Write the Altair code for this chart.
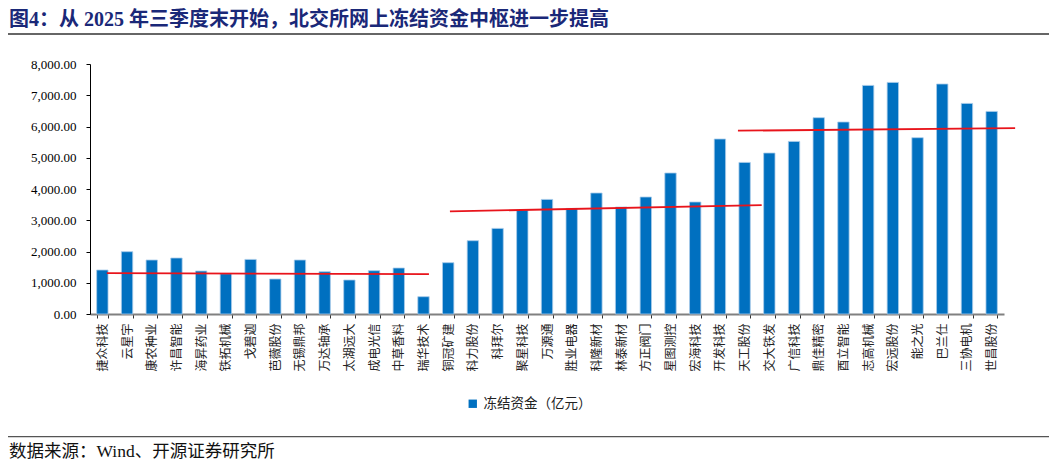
import altair as alt
import pandas as pd

categories = ["捷众科技", "云星宇", "康农种业", "许昌智能", "海昇药业", "铁拓机械", "戈碧迦",
              "芭薇股份", "无锡鼎邦", "万达轴承", "太湖远大", "成电光信", "中草香料", "瑞华技术",
              "铜冠矿建", "科力股份", "科拜尔", "聚星科技", "万源通", "胜业电器", "科隆新材",
              "林泰新材", "方正阀门", "星图测控", "宏海科技", "开发科技", "天工股份", "交大铁发",
              "广信科技", "鼎佳精密", "酉立智能", "志高机械", "宏远股份", "能之光", "巴兰仕",
              "三协电机", "世昌股份"]
values = [1408, 1994, 1728, 1792, 1376, 1290, 1747,
          1120, 1728, 1354, 1088, 1386, 1472, 554,
          1642, 2346, 2740, 3328, 3667, 3379, 3872,
          3424, 3744, 4512, 3584, 5600, 4851, 5152,
          5523, 6282, 6144, 7315, 7411, 5642, 7360,
          6739, 6483]
series_name = "冻结资金（亿元）"

# trend lines (x in category-index units, y in 亿元)
trend_x_start = [0.68, 14.57, 26.23]
trend_x_end = [13.72, 27.19, 37.45]
trend_y_start = [1307, 3283, 5865]
trend_y_end = [1275, 3485, 5950]

y_ticks = [0, 1000, 2000, 3000, 4000, 5000, 6000, 7000, 8000]

title_text = "图4：从 2025 年三季度末开始，北交所网上冻结资金中枢进一步提高"
source_text = "数据来源：Wind、开源证券研究所"

W, H = 914, 250
CJK = "Noto Sans CJK SC"
SERIF = "Liberation Serif, Noto Sans CJK SC"

bars_df = pd.DataFrame({"category": categories, "value": values, "series": series_name})
trend_df = pd.DataFrame({"x0": trend_x_start, "x1": trend_x_end,
                         "y0": trend_y_start, "y1": trend_y_end})

y_axis = alt.Axis(title=None, values=y_ticks, format=",.2f", grid=False,
                  labelFont="Liberation Serif", labelFontSize=13, labelColor="#000",
                  labelPadding=10, tickSize=4, tickColor="#000",
                  domainColor="#000", domainWidth=1, labelOverlap=False)
y_scale = alt.Scale(domain=[0, 8000], nice=False)

bars = alt.Chart(bars_df).mark_bar(stroke="#A9CBEA", strokeWidth=0.8).encode(
    x=alt.X("category:N", sort=categories,
            scale=alt.Scale(paddingInner=0.54, paddingOuter=0.27),
            axis=alt.Axis(title=None, labelAngle=270, labelFont=CJK, labelFontSize=12,
                          labelColor="#222", labelPadding=5, tickBand="extent",
                          tickSize=4, tickColor="#333", domainColor="#808080",
                          domainWidth=2, labelOverlap=False)),
    y=alt.Y("value:Q", scale=y_scale, axis=y_axis),
    color=alt.Color("series:N", scale=alt.Scale(range=["#0070C0"]),
                    legend=alt.Legend(title=None, orient="none", legendX=376, legendY=333,
                                      symbolType="square", symbolSize=70,
                                      symbolStrokeWidth=0, labelFont=CJK,
                                      labelFontSize=13.5, labelColor="#222")),
)

trend = alt.Chart(trend_df).mark_rule(color="#E8141B", strokeWidth=1.8).encode(
    x=alt.X("x0:Q", scale=alt.Scale(domain=[0, len(categories)], nice=False, zero=False),
            axis=None),
    x2="x1:Q",
    y=alt.Y("y0:Q", scale=y_scale, axis=y_axis),
    y2="y1:Q",
)

one = pd.DataFrame({"t": [title_text]})
title = alt.Chart(one).mark_text(align="left", baseline="middle", font=SERIF,
                                 fontSize=20, fontWeight="bold", color="#1A2878").encode(
    text="t:N", x=alt.value(-81), y=alt.value(-44))

src = alt.Chart(pd.DataFrame({"t": [source_text]})).mark_text(
    align="left", baseline="middle", font=SERIF, fontSize=17.5, color="#111").encode(
    text="t:N", x=alt.value(-81), y=alt.value(388))

line_df = pd.DataFrame({"k": [1]})
top_line = alt.Chart(line_df).mark_rule(color="#333", strokeWidth=1.5).encode(
    x=alt.value(-82), x2=alt.value(959), y=alt.value(-30))
bottom_line = alt.Chart(line_df).mark_rule(color="#555", strokeWidth=1.2).encode(
    x=alt.value(-82), x2=alt.value(959), y=alt.value(372.7))

chart = alt.layer(bars, trend, title, src, top_line, bottom_line).resolve_scale(
    x="independent"
).properties(
    width=W, height=H,
    autosize=alt.AutoSizeParams(type="none"),
    padding={"left": 82, "top": 56, "right": 45, "bottom": 146},
).configure_view(stroke=None)

chart.save("out.html", embed_options={"renderer": "svg", "actions": False})
